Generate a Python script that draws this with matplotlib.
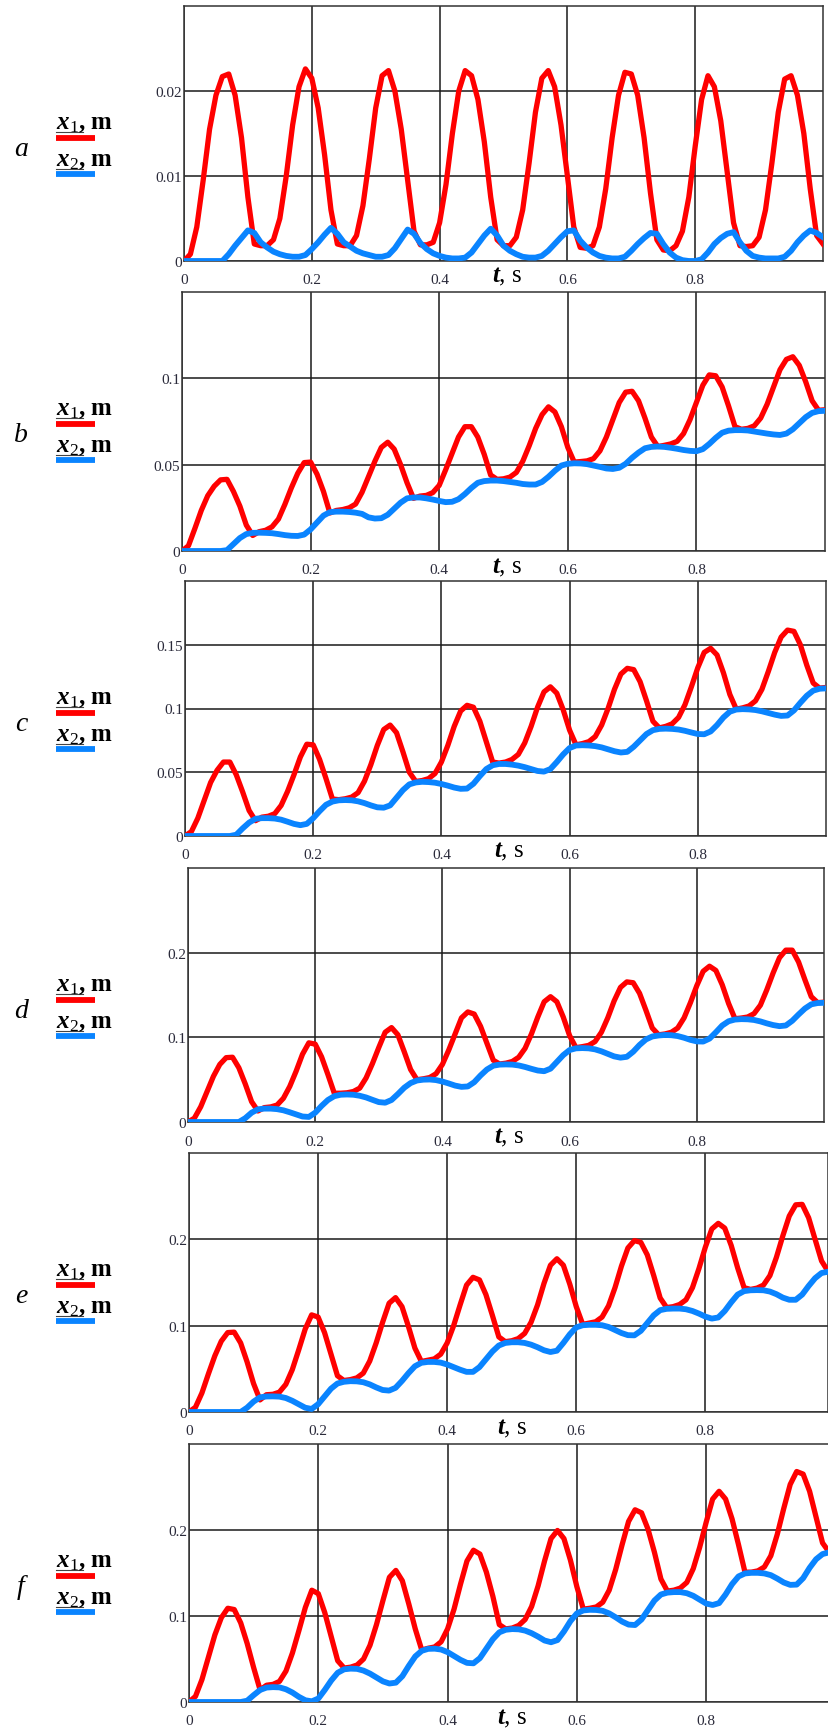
import numpy as np
import matplotlib
matplotlib.use('Agg')
import matplotlib.pyplot as plt

plt.rcParams['font.family'] = ['Liberation Serif', 'DejaVu Serif']
plt.rcParams['mathtext.fontset'] = 'custom'
plt.rcParams['mathtext.rm'] = 'Liberation Serif'
plt.rcParams['mathtext.it'] = 'Liberation Serif:italic'
plt.rcParams['mathtext.bf'] = 'Liberation Serif:bold'
plt.rcParams['mathtext.bfit'] = 'Liberation Serif:italic:bold'

# time grid, s
t = np.round(np.arange(0, 1.001, 0.01), 2)

# a
x1_a = [0, 0.0008, 0.0040, 0.0095, 0.0155, 0.0195, 0.0217, 0.0220, 0.0195, 0.0145,
        0.0075, 0.0020, 0.0018, 0.0018, 0.0025, 0.0050, 0.0100, 0.0160, 0.0205, 0.0226,
        0.0215, 0.0180, 0.0125, 0.0060, 0.0020, 0.0018, 0.0018, 0.0030, 0.0065, 0.0120,
        0.0180, 0.0218, 0.0224, 0.0200, 0.0155, 0.0095, 0.0035, 0.0019, 0.0019, 0.0022,
        0.0045, 0.0090, 0.0150, 0.0200, 0.0224, 0.0218, 0.0190, 0.0140, 0.0075, 0.0025,
        0.0018, 0.0018, 0.0028, 0.0060, 0.0115, 0.0175, 0.0215, 0.0224, 0.0205, 0.0160,
        0.0100, 0.0040, 0.0016, 0.0015, 0.0018, 0.0040, 0.0085, 0.0145, 0.0195, 0.0222,
        0.0220, 0.0195, 0.0145, 0.0080, 0.0025, 0.0013, 0.0012, 0.0018, 0.0035, 0.0075,
        0.0135, 0.0190, 0.0218, 0.0205, 0.0165, 0.0105, 0.0045, 0.0018, 0.0017, 0.0018,
        0.0028, 0.0060, 0.0115, 0.0175, 0.0214, 0.0218, 0.0195, 0.0150, 0.0085, 0.0030,
        0.0020]
x2_a = [0, 0, 0, 0, 0, 0, 0, 0.0008, 0.0018, 0.0027,
        0.0036, 0.0033, 0.0022, 0.0016, 0.0011, 0.0008, 0.0006, 0.0005, 0.0005, 0.0007,
        0.0014, 0.0022, 0.0031, 0.0039, 0.0032, 0.0022, 0.0017, 0.0012, 0.0009, 0.0007,
        0.0005, 0.0005, 0.0007, 0.0015, 0.0026, 0.0037, 0.0032, 0.0021, 0.0014, 0.0009,
        0.0006, 0.0004, 0.0003, 0.0003, 0.0004, 0.0010, 0.0020, 0.0030, 0.0038, 0.0030,
        0.0018, 0.0012, 0.0008, 0.0005, 0.0004, 0.0004, 0.0006, 0.0012, 0.0020, 0.0028,
        0.0035, 0.0036, 0.0024, 0.0016, 0.0010, 0.0006, 0.0004, 0.0003, 0.0003, 0.0005,
        0.0012, 0.0020, 0.0027, 0.0033, 0.0032, 0.0020, 0.0010, 0.0004, 0.0001, 0.0,
        0.0, 0.0002, 0.0010, 0.0020, 0.0027, 0.0032, 0.0034, 0.0022, 0.0012, 0.0006,
        0.0004, 0.0003, 0.0003, 0.0003, 0.0005, 0.0012, 0.0022, 0.0030, 0.0036, 0.0033,
        0.0028]

# b
x1_b = [0, 0.0030, 0.0130, 0.0235, 0.0320, 0.0375, 0.0412, 0.0415, 0.0345, 0.0260,
        0.0150, 0.0090, 0.0112, 0.0120, 0.0140, 0.0185, 0.0270, 0.0365, 0.0450, 0.0512,
        0.0515, 0.0445, 0.0345, 0.0220, 0.0235, 0.0240, 0.0250, 0.0272, 0.0340, 0.0430,
        0.0520, 0.0600, 0.0630, 0.0590, 0.0500, 0.0395, 0.0305, 0.0318, 0.0322, 0.0338,
        0.0380, 0.0470, 0.0565, 0.0660, 0.0720, 0.0720, 0.0660, 0.0560, 0.0440, 0.0415,
        0.0418, 0.0428, 0.0455, 0.0520, 0.0610, 0.0710, 0.0790, 0.0835, 0.0805, 0.0720,
        0.0600, 0.0515, 0.0518, 0.0522, 0.0535, 0.0580, 0.0660, 0.0760, 0.0860, 0.0920,
        0.0925, 0.0870, 0.0770, 0.0660, 0.0605, 0.0612, 0.0620, 0.0635, 0.0680, 0.0760,
        0.0860, 0.0960, 0.1020, 0.1015, 0.0950, 0.0840, 0.0720, 0.0705, 0.0710, 0.0725,
        0.0770, 0.0850, 0.0950, 0.1050, 0.1110, 0.1125, 0.1075, 0.0980, 0.0870, 0.0815,
        0.0818]
x2_b = [0, 0, 0, 0, 0, 0, 0, 0.0005, 0.0040, 0.0075,
        0.0098, 0.0105, 0.0106, 0.0105, 0.0103, 0.0098, 0.0092, 0.0088, 0.0087, 0.0095,
        0.0125, 0.0165, 0.0205, 0.0225, 0.0228, 0.0228, 0.0226, 0.0222, 0.0215, 0.0195,
        0.0188, 0.0190, 0.0210, 0.0245, 0.0280, 0.0305, 0.0310, 0.0310, 0.0305, 0.0298,
        0.0290, 0.0283, 0.0285, 0.0300, 0.0330, 0.0365, 0.0395, 0.0405, 0.0408, 0.0408,
        0.0405, 0.0400, 0.0395, 0.0388, 0.0385, 0.0385, 0.0400, 0.0430, 0.0465, 0.0495,
        0.0505, 0.0508, 0.0507, 0.0503, 0.0495, 0.0487, 0.0478, 0.0475, 0.0482, 0.0505,
        0.0540, 0.0570, 0.0595, 0.0603, 0.0605, 0.0603, 0.0598, 0.0592, 0.0585, 0.0580,
        0.0578, 0.0590, 0.0620, 0.0655, 0.0685, 0.0697, 0.0700, 0.0700, 0.0698, 0.0692,
        0.0686, 0.0680, 0.0675, 0.0672, 0.0680, 0.0705, 0.0740, 0.0775, 0.0800, 0.0810,
        0.0812]

# c
x1_c = [0, 0.0035, 0.0140, 0.0280, 0.0420, 0.0515, 0.0580, 0.0580, 0.0480, 0.0345,
        0.0200, 0.0120, 0.0148, 0.0155, 0.0175, 0.0240, 0.0350, 0.0480, 0.0620, 0.0720,
        0.0715, 0.0600, 0.0450, 0.0290, 0.0285, 0.0292, 0.0305, 0.0340, 0.0430, 0.0560,
        0.0710, 0.0835, 0.0870, 0.0810, 0.0660, 0.0500, 0.0428, 0.0435, 0.0450, 0.0490,
        0.0580, 0.0710, 0.0860, 0.0980, 0.1025, 0.1010, 0.0900, 0.0740, 0.0580, 0.0572,
        0.0580, 0.0600, 0.0640, 0.0730, 0.0860, 0.1010, 0.1130, 0.1170, 0.1120, 0.0990,
        0.0830, 0.0715, 0.0725, 0.0740, 0.0780, 0.0870, 0.1000, 0.1150, 0.1270, 0.1315,
        0.1305, 0.1210, 0.1060, 0.0900, 0.0848, 0.0860, 0.0880, 0.0930, 0.1030, 0.1170,
        0.1320, 0.1440, 0.1472, 0.1420, 0.1280, 0.1110, 0.0995, 0.1005, 0.1020, 0.1060,
        0.1150, 0.1290, 0.1440, 0.1560, 0.1615, 0.1605, 0.1500, 0.1340, 0.1200, 0.1160,
        0.1165]
x2_c = [0, 0, 0, 0, 0, 0, 0, 0, 0.0010, 0.0060,
        0.0105, 0.0135, 0.0140, 0.0140, 0.0137, 0.0128, 0.0112, 0.0095, 0.0085, 0.0095,
        0.0140, 0.0195, 0.0245, 0.0270, 0.0280, 0.0282, 0.0280, 0.0272, 0.0258, 0.0240,
        0.0225, 0.0222, 0.0240, 0.0300, 0.0360, 0.0405, 0.0420, 0.0425, 0.0423, 0.0418,
        0.0408, 0.0395, 0.0380, 0.0370, 0.0372, 0.0410, 0.0470, 0.0525, 0.0555, 0.0565,
        0.0565, 0.0560, 0.0552, 0.0540, 0.0525, 0.0510, 0.0505, 0.0525, 0.0580, 0.0640,
        0.0690, 0.0710, 0.0712, 0.0710, 0.0705, 0.0695, 0.0680, 0.0665, 0.0655, 0.0660,
        0.0700, 0.0750, 0.0800, 0.0830, 0.0840, 0.0842, 0.0840, 0.0835, 0.0825, 0.0812,
        0.0800, 0.0798, 0.0820, 0.0870, 0.0930, 0.0975, 0.0992, 0.0995, 0.0993, 0.0988,
        0.0978, 0.0965, 0.0952, 0.0942, 0.0945, 0.0985, 0.1045, 0.1100, 0.1140, 0.1155,
        0.1158]

# d
x1_d = [0, 0.0045, 0.0180, 0.0360, 0.0540, 0.0680, 0.0760, 0.0765, 0.0640, 0.0450,
        0.0240, 0.0130, 0.0170, 0.0178, 0.0200, 0.0280, 0.0420, 0.0600, 0.0800, 0.0935,
        0.0920, 0.0770, 0.0560, 0.0340, 0.0340, 0.0345, 0.0360, 0.0400, 0.0520, 0.0690,
        0.0880, 0.1060, 0.1115, 0.1030, 0.0830, 0.0620, 0.0500, 0.0510, 0.0525, 0.0570,
        0.0680, 0.0850, 0.1040, 0.1230, 0.1300, 0.1275, 0.1130, 0.0930, 0.0730, 0.0685,
        0.0695, 0.0715, 0.0765, 0.0870, 0.1040, 0.1240, 0.1420, 0.1480, 0.1420, 0.1240,
        0.1020, 0.0878, 0.0890, 0.0905, 0.0950, 0.1060, 0.1230, 0.1430, 0.1590, 0.1655,
        0.1645, 0.1520, 0.1320, 0.1110, 0.1030, 0.1040, 0.1060, 0.1110, 0.1230, 0.1410,
        0.1610, 0.1780, 0.1840, 0.1790, 0.1620, 0.1400, 0.1220, 0.1228, 0.1240, 0.1280,
        0.1380, 0.1560, 0.1760, 0.1940, 0.2030, 0.2030, 0.1890, 0.1680, 0.1480, 0.1410,
        0.1415]
x2_d = [0, 0, 0, 0, 0, 0, 0, 0, 0, 0.0045,
        0.0110, 0.0150, 0.0158, 0.0158, 0.0152, 0.0138, 0.0115, 0.0090, 0.0065, 0.0060,
        0.0110, 0.0190, 0.0260, 0.0305, 0.0322, 0.0325, 0.0322, 0.0310, 0.0290, 0.0262,
        0.0235, 0.0228, 0.0260, 0.0330, 0.0405, 0.0460, 0.0490, 0.0500, 0.0502, 0.0495,
        0.0478, 0.0455, 0.0430, 0.0415, 0.0420, 0.0470, 0.0550, 0.0620, 0.0665, 0.0678,
        0.0680, 0.0678, 0.0668, 0.0650, 0.0628, 0.0608, 0.0600, 0.0630, 0.0710, 0.0790,
        0.0850, 0.0870, 0.0873, 0.0870, 0.0858, 0.0835, 0.0805, 0.0775, 0.0760, 0.0770,
        0.0830, 0.0910, 0.0975, 0.1010, 0.1022, 0.1028, 0.1025, 0.1015, 0.0995, 0.0970,
        0.0952, 0.0950, 0.0985, 0.1060, 0.1140, 0.1190, 0.1210, 0.1215, 0.1213, 0.1205,
        0.1188, 0.1165, 0.1145, 0.1132, 0.1140, 0.1195, 0.1270, 0.1340, 0.1390, 0.1405,
        0.1408]

# e
x1_e = [0, 0.0055, 0.0220, 0.0440, 0.0650, 0.0820, 0.0920, 0.0925, 0.0800, 0.0580,
        0.0330, 0.0140, 0.0200, 0.0205, 0.0230, 0.0320, 0.0490, 0.0720, 0.0960, 0.1125,
        0.1100, 0.0920, 0.0670, 0.0420, 0.0365, 0.0375, 0.0395, 0.0450, 0.0590, 0.0800,
        0.1040, 0.1260, 0.1325, 0.1220, 0.0990, 0.0740, 0.0585, 0.0600, 0.0615, 0.0670,
        0.0800, 0.1000, 0.1240, 0.1470, 0.1560, 0.1530, 0.1360, 0.1120, 0.0870, 0.0815,
        0.0825, 0.0850, 0.0910, 0.1040, 0.1240, 0.1490, 0.1700, 0.1775, 0.1700, 0.1480,
        0.1220, 0.1015, 0.1030, 0.1045, 0.1100, 0.1230, 0.1440, 0.1690, 0.1900, 0.1985,
        0.1965, 0.1820, 0.1580, 0.1320, 0.1210, 0.1220, 0.1245, 0.1300, 0.1440, 0.1660,
        0.1910, 0.2120, 0.2185, 0.2130, 0.1930, 0.1670, 0.1440, 0.1420, 0.1435, 0.1470,
        0.1580, 0.1790, 0.2040, 0.2270, 0.2400, 0.2405, 0.2250, 0.2000, 0.1750, 0.1630,
        0.1635]
x2_e = [0, 0, 0, 0, 0, 0, 0, 0, 0, 0.0050,
        0.0120, 0.0170, 0.0180, 0.0181, 0.0178, 0.0162, 0.0130, 0.0090, 0.0050, 0.0035,
        0.0090, 0.0180, 0.0270, 0.0330, 0.0350, 0.0357, 0.0355, 0.0345, 0.0320, 0.0285,
        0.0255, 0.0248, 0.0280, 0.0360, 0.0450, 0.0530, 0.0570, 0.0580, 0.0580, 0.0572,
        0.0550, 0.0520, 0.0490, 0.0465, 0.0465, 0.0520, 0.0610, 0.0700, 0.0770, 0.0800,
        0.0808, 0.0808, 0.0800, 0.0780, 0.0750, 0.0715, 0.0695, 0.0710, 0.0800, 0.0900,
        0.0980, 0.1005, 0.1010, 0.1010, 0.1005, 0.0985, 0.0950, 0.0915, 0.0890, 0.0888,
        0.0940, 0.1030, 0.1120, 0.1180, 0.1195, 0.1198, 0.1198, 0.1190, 0.1170, 0.1140,
        0.1105, 0.1082, 0.1095, 0.1170, 0.1270, 0.1360, 0.1400, 0.1410, 0.1412, 0.1410,
        0.1395, 0.1365, 0.1325, 0.1300, 0.1300, 0.1360, 0.1460, 0.1550, 0.1610, 0.1625,
        0.1628]

# f
x1_f = [0, 0.0065, 0.0260, 0.0520, 0.0780, 0.0980, 0.1090, 0.1075, 0.0920, 0.0680,
        0.0400, 0.0140, 0.0195, 0.0205, 0.0240, 0.0360, 0.0570, 0.0830, 0.1100, 0.1300,
        0.1260, 0.1040, 0.0760, 0.0480, 0.0395, 0.0405, 0.0430, 0.0500, 0.0660, 0.0900,
        0.1180, 0.1450, 0.1530, 0.1410, 0.1140, 0.0850, 0.0605, 0.0625, 0.0640, 0.0700,
        0.0850, 0.1080, 0.1370, 0.1640, 0.1765, 0.1720, 0.1510, 0.1230, 0.0900, 0.0850,
        0.0860, 0.0890, 0.0960, 0.1110, 0.1350, 0.1640, 0.1900, 0.1995, 0.1900, 0.1650,
        0.1340, 0.1080, 0.1090, 0.1105, 0.1160, 0.1300, 0.1540, 0.1830, 0.2100, 0.2235,
        0.2200, 0.2010, 0.1740, 0.1430, 0.1290, 0.1300, 0.1325, 0.1390, 0.1550, 0.1800,
        0.2090, 0.2360, 0.2450, 0.2360, 0.2130, 0.1830, 0.1510, 0.1510, 0.1525, 0.1570,
        0.1700, 0.1950, 0.2250, 0.2530, 0.2680, 0.2650, 0.2450, 0.2150, 0.1850, 0.1745,
        0.1750]
x2_f = [0, 0, 0, 0, 0, 0, 0, 0, 0, 0.0015,
        0.0080, 0.0140, 0.0168, 0.0173, 0.0170, 0.0148, 0.0110, 0.0060, 0.0020, 0.0008,
        0.0040, 0.0140, 0.0250, 0.0340, 0.0380, 0.0388, 0.0385, 0.0365, 0.0330, 0.0285,
        0.0240, 0.0215, 0.0225, 0.0300, 0.0420, 0.0530, 0.0595, 0.0618, 0.0620, 0.0610,
        0.0580, 0.0535, 0.0490, 0.0455, 0.0450, 0.0510, 0.0620, 0.0730, 0.0810, 0.0840,
        0.0848, 0.0845, 0.0830, 0.0800, 0.0760, 0.0715, 0.0695, 0.0720, 0.0820, 0.0940,
        0.1030, 0.1065, 0.1072, 0.1070, 0.1060, 0.1030, 0.0985, 0.0935, 0.0900, 0.0895,
        0.0960, 0.1070, 0.1180, 0.1250, 0.1272, 0.1278, 0.1278, 0.1265, 0.1235, 0.1190,
        0.1145, 0.1128, 0.1150, 0.1250, 0.1370, 0.1460, 0.1495, 0.1502, 0.1502, 0.1495,
        0.1475, 0.1435, 0.1390, 0.1362, 0.1365, 0.1440, 0.1560, 0.1660, 0.1720, 0.1740,
        0.1745]

letters = ['a', 'b', 'c', 'd', 'e', 'f']
red_series = [x1_a, x1_b, x1_c, x1_d, x1_e, x1_f]
blue_series = [x2_a, x2_b, x2_c, x2_d, x2_e, x2_f]
y_max = [0.03, 0.15, 0.2, 0.3, 0.3, 0.3]
x_max = [1.0, 1.0, 1.0, 1.0, 0.99, 0.99]
y_ticks = [[0, 0.01, 0.02], [0, 0.05, 0.1], [0, 0.05, 0.1, 0.15],
           [0, 0.1, 0.2], [0, 0.1, 0.2], [0, 0.1, 0.2]]
y_labels = [['0', '0.01', '0.02'], ['0', '0.05', '0.1'], ['0', '0.05', '0.1', '0.15'],
            ['0', '0.1', '0.2'], ['0', '0.1', '0.2'], ['0', '0.1', '0.2']]
x_ticks = [0, 0.2, 0.4, 0.6, 0.8]
x_labels = ['0', '0.2', '0.4', '0.6', '0.8']

# panel boxes in pixels: left, top, right, bottom
boxes = [(184, 7, 823, 262), (182, 293, 825, 552), (185, 582, 826, 837),
         (188, 869, 824, 1123), (189, 1154, 828, 1413), (189, 1445, 829, 1703)]

W, H = 829, 1731
RED = '#ff0000'
BLUE = '#0a84ff'
TICK_COLOR = '#2a2a3a'

fig = plt.figure(figsize=(W / 100, H / 100), dpi=100)


def fx(px):
    return px / W


def fy(py):
    return 1 - py / H


for i in range(6):
    left, top, right, bottom = boxes[i]
    ax = fig.add_axes([fx(left), fy(bottom), (right - left) / W, (bottom - top) / H])

    ax.plot(t, red_series[i], color=RED, lw=3.8, solid_joinstyle='round', zorder=3)
    ax.plot(t, blue_series[i], color=BLUE, lw=4.2, solid_joinstyle='round', zorder=4)

    ax.set_xlim(0, x_max[i])
    ax.set_ylim(0, y_max[i])
    ax.set_xticks(x_ticks)
    ax.set_xticklabels(x_labels)
    ax.set_yticks(y_ticks[i])
    ax.set_yticklabels(y_labels[i])
    ax.tick_params(axis='both', length=0, labelsize=11, labelcolor=TICK_COLOR)
    ax.tick_params(axis='x', pad=9)
    ax.tick_params(axis='y', pad=1.5)
    ax.grid(True, color='#1a1a1a', lw=1.1)
    ax.set_axisbelow(True)
    for s in ax.spines.values():
        s.set_color('#333333')
        s.set_linewidth(1.1)

    ax.text(0.505, -0.06, r'$\mathbfit{t}$, s', transform=ax.transAxes,
            ha='center', va='center', fontsize=18)

    # side legend
    fig.text(fx(21), fy(top + 149), letters[i], ha='center', va='baseline',
             fontsize=20, style='italic')
    fig.text(fx(56), fy(top + 122), r'$\mathbfit{x}_{\mathit{1}}$, m', ha='left',
             va='baseline', fontsize=18, fontweight='bold')
    fig.text(fx(56), fy(top + 159), r'$\mathbfit{x}_{\mathit{2}}$, m', ha='left',
             va='baseline', fontsize=18, fontweight='bold')
    fig.add_artist(plt.Line2D([fx(56), fx(83)], [fy(top + 126), fy(top + 126)],
                              color='#444444', lw=0.8))
    fig.add_artist(plt.Line2D([fx(56), fx(95)], [fy(top + 132), fy(top + 132)],
                              color=RED, lw=4.2, solid_capstyle='butt'))
    fig.add_artist(plt.Line2D([fx(56), fx(83)], [fy(top + 163), fy(top + 163)],
                              color='#444444', lw=0.8))
    fig.add_artist(plt.Line2D([fx(56), fx(95)], [fy(top + 168), fy(top + 168)],
                              color=BLUE, lw=4.2, solid_capstyle='butt'))

fig.savefig('out.png', dpi=100)
